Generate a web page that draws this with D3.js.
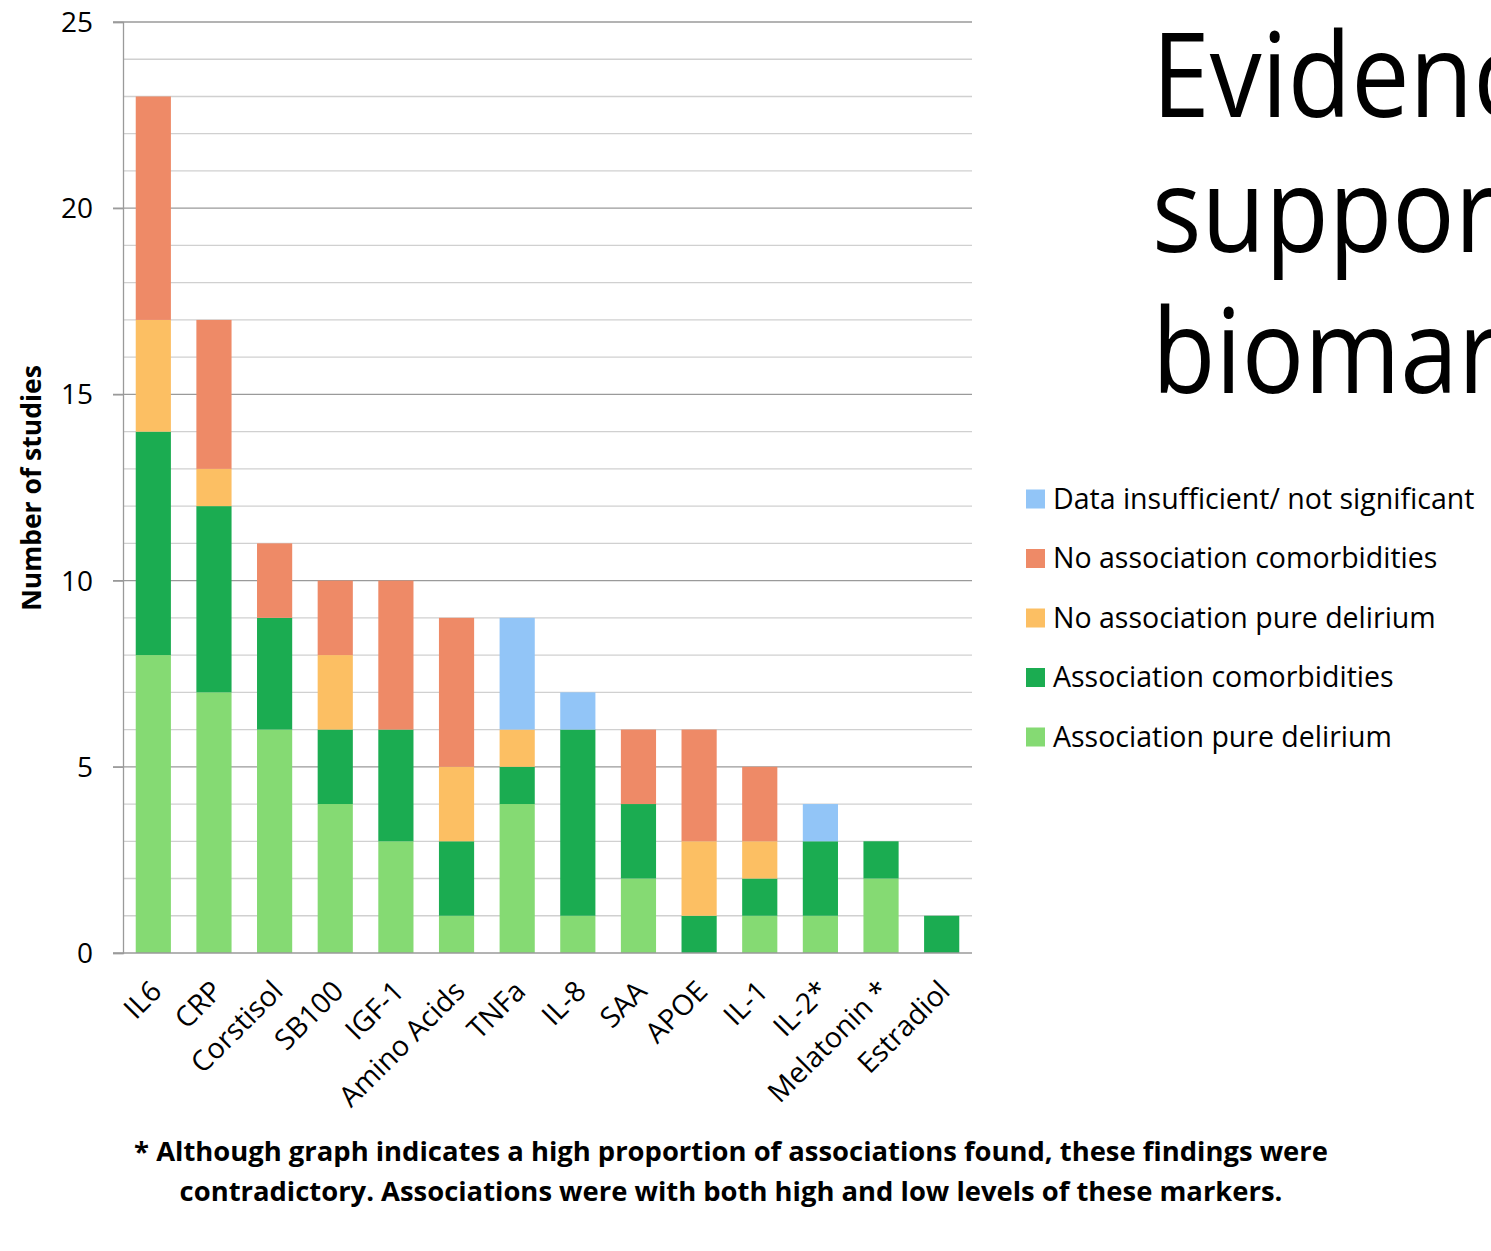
<!DOCTYPE html>
<html>
<head>
<meta charset="utf-8">
<script src="https://cdn.jsdelivr.net/npm/d3@7/dist/d3.min.js"></script>
<style>
  html, body { margin: 0; padding: 0; background: #fff; overflow: hidden; }
  svg { display: block; font-family: "Open Sans", "Noto Sans", sans-serif; }
</style>
</head>
<body>
<svg id="chart" width="1491" height="1251"></svg>
<script>
// Biomarker study counts, stacked by outcome
const categories = ["IL6", "CRP", "Corstisol", "SB100", "IGF-1", "Amino Acids", "TNFa", "IL-8", "SAA", "APOE", "IL-1", "IL-2*", "Melatonin *", "Estradiol"];
const assocPure      = [8, 7, 6, 4, 3, 1, 4, 1, 2, 0, 1, 1, 2, 0];
const assocComorb    = [6, 5, 3, 2, 3, 2, 1, 5, 2, 1, 1, 2, 1, 1];
const noAssocPure    = [3, 1, 0, 2, 0, 2, 1, 0, 0, 2, 1, 0, 0, 0];
const noAssocComorb  = [6, 4, 2, 2, 4, 4, 0, 0, 2, 3, 2, 0, 0, 0];
const insufficient   = [0, 0, 0, 0, 0, 0, 3, 1, 0, 0, 0, 1, 0, 0];
const seriesNames = ["Association pure delirium", "Association comorbidities", "No association pure delirium", "No association comorbidities", "Data insufficient/ not significant"];
const seriesColors = ["#85DA73", "#1BAC51", "#FCBF63", "#EE8A67", "#92C5F7"];
const yTicks = [0, 5, 10, 15, 20, 25];
const titleLines = ["Evidence", "supporting", "biomarkers"];
const footnote = ["* Although graph indicates a high proportion of associations found, these findings were",
                  "contradictory. Associations were with both high and low levels of these markers."];

const seriesValues = [assocPure, assocComorb, noAssocPure, noAssocComorb, insufficient];
const keys = seriesNames;
const rows = categories.map((c, i) => {
  const r = { category: c };
  keys.forEach((k, j) => r[k] = seriesValues[j][i]);
  return r;
});

const svg = d3.select("#chart");
const margin = { left: 123, right: 972, top: 22, bottom: 953 };

const x = d3.scaleBand().domain(categories).range([margin.left, margin.right]).paddingInner(0.42).paddingOuter(0.21);
const y = d3.scaleLinear().domain([0, 25]).range([margin.bottom, margin.top]);

// Gridlines: light every study, darker at every fifth
const g = svg.append("g");
d3.range(1, 26).filter(v => v % 5 !== 0).forEach(v => {
  g.append("line").attr("x1", margin.left).attr("x2", margin.right)
    .attr("y1", y(v)).attr("y2", y(v)).attr("stroke", "#d0d0d0").attr("stroke-width", 1.3);
});
yTicks.filter(v => v > 0).forEach(v => {
  g.append("line").attr("x1", margin.left - 10).attr("x2", margin.right)
    .attr("y1", y(v)).attr("y2", y(v)).attr("stroke", "#9a9a9a").attr("stroke-width", 1.3);
});

// Stacked bars
const stack = d3.stack().keys(keys)(rows);
svg.append("g").selectAll("g").data(stack).join("g")
  .attr("fill", (d, i) => seriesColors[i])
  .selectAll("rect").data(d => d).join("rect")
  .attr("x", d => x(d.data.category))
  .attr("width", x.bandwidth())
  .attr("y", d => y(d[1]))
  .attr("height", d => y(d[0]) - y(d[1]));

// Axes
const yAxis = d3.axisLeft(y).tickValues(yTicks).tickSize(10).tickPadding(20);
const ya = svg.append("g").attr("transform", `translate(${margin.left},0)`).call(yAxis);
ya.select(".domain").attr("stroke", "#9a9a9a").attr("stroke-width", 1.3);
ya.selectAll(".tick line").attr("stroke", "#9a9a9a").attr("stroke-width", 1.3);
ya.selectAll(".tick text").attr("font-size", 28).attr("fill", "#000").attr("font-family", "Open Sans").attr("dy", "0.34em");

svg.append("line").attr("x1", margin.left - 10).attr("x2", margin.right)
  .attr("y1", y(0)).attr("y2", y(0)).attr("stroke", "#9a9a9a").attr("stroke-width", 1.5);

// Category labels, rotated
svg.append("g").selectAll("text").data(categories).join("text")
  .attr("transform", d => `translate(${x(d) + x.bandwidth() / 2 + 10},${y(0) + 40}) rotate(-45)`)
  .attr("text-anchor", "end")
  .attr("font-size", 28.5)
  .attr("fill", "#000")
  .text(d => d);

// Y axis title
svg.append("text")
  .attr("transform", `translate(41,488) rotate(-90)`)
  .attr("text-anchor", "middle")
  .attr("font-size", 26.5).attr("font-weight", "bold")
  .text("Number of studies");

// Legend (top entry is the top of the stack)
const legend = svg.append("g");
const legendOrder = d3.range(seriesNames.length).reverse();
legendOrder.forEach((si, i) => {
  const cy = 499 + i * 59.5;
  legend.append("rect").attr("x", 1026).attr("y", cy - 9.5).attr("width", 19).attr("height", 19).attr("fill", seriesColors[si]);
  legend.append("text").attr("x", 1053).attr("y", cy).attr("dy", "0.35em")
    .attr("font-size", 28.5).attr("fill", "#000").text(seriesNames[si]);
});

// Slide title (runs off the right edge of the slide)
const titleBase = [117, 252, 393];
titleLines.forEach((t, i) => {
  svg.append("text")
    .attr("transform", `translate(1152,${titleBase[i]}) scale(0.88,1)`)
    .attr("font-size", 118).attr("fill", "#000").text(t);
});

// Footnote
footnote.forEach((t, i) => {
  svg.append("text").attr("x", 731).attr("y", 1161 + i * 40)
    .attr("text-anchor", "middle").attr("font-size", 27.4).attr("font-weight", "bold")
    .attr("fill", "#000").text(t);
});
</script>
</body>
</html>
